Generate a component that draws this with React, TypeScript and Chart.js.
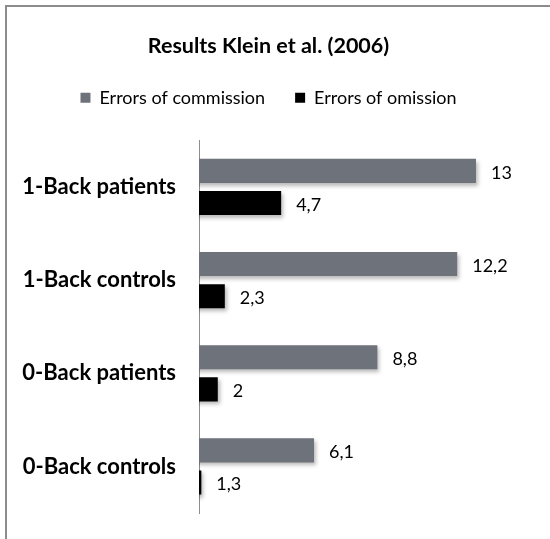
import React, { useEffect, useRef } from "react";
import { Chart, registerables } from "chart.js";

Chart.register(...registerables);

const categories = ["1-Back patients", "1-Back controls", "0-Back patients", "0-Back controls"];
const commission = [13, 12.2, 8.8, 6.1];
const omission = [4.7, 2.3, 2, 1.3];
const seriesNames = ["Errors of commission", "Errors of omission"];
const chartTitle = "Results Klein et al. (2006)";

const FONT = "Lato, 'Open Sans', sans-serif";

const fmt = (v: number) => String(v).replace(".", ",");

// outer frame of the chart box
const framePlugin = {
  id: "frame",
  beforeDraw(chart: any) {
    const { ctx } = chart;
    ctx.save();
    ctx.strokeStyle = "#8c8c8c";
    ctx.lineWidth = 2;
    ctx.beginPath();
    ctx.moveTo(6, chart.height);
    ctx.lineTo(6, 6);
    ctx.lineTo(chart.width, 6);
    ctx.stroke();
    ctx.restore();
  },
};

// soft drop shadow under the bars
const shadowPlugin = {
  id: "barShadow",
  beforeDatasetsDraw(chart: any) {
    const { ctx } = chart;
    ctx.save();
    ctx.shadowColor = "rgba(0,0,0,0.28)";
    ctx.shadowBlur = 4;
    ctx.shadowOffsetX = 2;
    ctx.shadowOffsetY = 3;
  },
  afterDatasetsDraw(chart: any) {
    chart.ctx.restore();
  },
};

// value labels at the end of each bar
const valueLabelPlugin = {
  id: "valueLabels",
  afterDatasetsDraw(chart: any) {
    const { ctx } = chart;
    ctx.save();
    ctx.font = `18px ${FONT}`;
    ctx.fillStyle = "#000";
    ctx.textAlign = "left";
    ctx.textBaseline = "middle";
    chart.data.datasets.forEach((ds: any, di: number) => {
      const meta = chart.getDatasetMeta(di);
      meta.data.forEach((bar: any, i: number) => {
        ctx.fillText(fmt(ds.data[i]), bar.x + 15, bar.y + 2);
      });
    });
    ctx.restore();
  },
};

export default function App() {
  const ref = useRef<HTMLCanvasElement>(null);

  useEffect(() => {
    if (!ref.current) return;
    const chart = new Chart(ref.current, {
      type: "bar",
      data: {
        labels: categories,
        datasets: [
          {
            label: seriesNames[0],
            data: commission,
            backgroundColor: "#6e727a",
            barPercentage: 0.75,
            categoryPercentage: 0.69,
          },
          {
            label: seriesNames[1],
            data: omission,
            backgroundColor: "#000000",
            barPercentage: 0.75,
            categoryPercentage: 0.69,
          },
        ],
      },
      options: {
        indexAxis: "y",
        animation: false,
        responsive: false,
        maintainAspectRatio: false,
        layout: { padding: { left: 0, right: 13, top: 0, bottom: 26 } },
        scales: {
          x: {
            position: "top",
            min: 1.2,
            max: 15.6,
            display: true,
            grid: { display: false, drawTicks: false },
            border: { display: false },
            ticks: { display: false },
            // empty band between the legend and the bars
            afterFit(scale: any) {
              scale.height = 23.6;
            },
          },
          y: {
            grid: { display: false, drawTicks: false },
            border: { display: true, color: "#8e8e8e", width: 1 },
            ticks: {
              color: "#000",
              font: { family: FONT, size: 22, weight: "bold" },
              padding: 23,
            },
            afterFit(scale: any) {
              scale.width = 199;
              scale.paddingTop = 0;
              scale.paddingBottom = 0;
            },
          },
        },
        plugins: {
          title: {
            display: true,
            text: chartTitle,
            color: "#000",
            font: { family: FONT, size: 21.5, weight: "bold" },
            padding: { top: 33, bottom: 0 },
          },
          legend: {
            display: true,
            position: "top",
            labels: {
              color: "#000",
              font: { family: FONT, size: 18 },
              boxWidth: 10,
              boxHeight: 10,
              padding: 30,
            },
          },
          tooltip: { enabled: false },
        },
      },
      plugins: [framePlugin, shadowPlugin, valueLabelPlugin],
    });
    return () => chart.destroy();
  }, []);

  return (
    <div style={{ position: "fixed", left: 0, top: 0, width: 550, height: 539, background: "#fff" }}>
      <canvas ref={ref} width={550} height={539} />
    </div>
  );
}
